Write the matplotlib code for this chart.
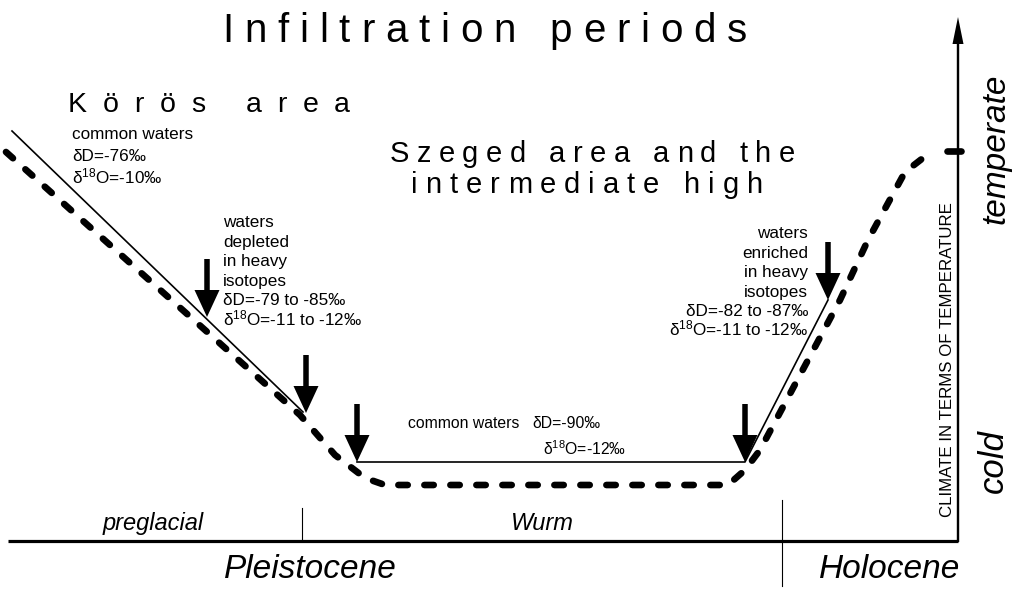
import matplotlib
matplotlib.use('Agg')
import matplotlib.pyplot as plt
import numpy as np

plt.rcParams['font.family'] = ['Liberation Sans', 'DejaVu Sans']
plt.rcParams['mathtext.fontset'] = 'custom'
plt.rcParams['mathtext.rm'] = 'Liberation Sans'
plt.rcParams['mathtext.it'] = 'Liberation Sans:italic'

# Schematic drawn on a pixel grid (x to the right, y downwards)
# solid line = infiltration periods, NaN splits it
SOLID_X = [12, 303, np.nan, 357, 745, 828]
SOLID_Y = [131, 412, np.nan, 462, 462, 300]

# dashed line = climate curve
CLIMATE_X = [6, 300, 335, 365, 385, 728, 745, 760, 840, 868, 887, 905, 932]
CLIMATE_Y = [152, 415, 455, 478, 485, 485, 470, 450, 300, 240, 205, 172, 151]
TEMPERATE_Y = 151

# sampling arrows (tip positions)
ARROW_X = [207, 306, 357, 745, 828]
ARROW_TIP_Y = [317, 413, 462, 462, 300]
ARROW_LEN = 58

# time axis
AXIS_Y = 541
AXIS_X0, AXIS_X1 = 8, 958
AXIS_TOP = 17
PERIOD_BOUNDS = [302]          # preglacial | Wurm
EPOCH_BOUNDS = [782]           # Pleistocene | Holocene
PERIODS = ['preglacial', 'Wurm']
PERIOD_X = [153, 542]
EPOCHS = ['Pleistocene', 'Holocene']
EPOCH_X = [310, 890]

KOROS_NOTE = ['common waters', 'δD=-76‰', 'δ$^{\\mathregular{18}}$O=-10‰']
DEPLETED_NOTE = ['waters', 'depleted', 'in heavy', 'isotopes',
                 'δD=-79 to -85‰', 'δ$^{\\mathregular{18}}$O=-11 to -12‰']
ENRICHED_NOTE = ['waters', 'enriched', 'in heavy', 'isotopes',
                 'δD=-82 to -87‰', 'δ$^{\\mathregular{18}}$O=-11 to -12‰']


def tracked_text(ax, s, x0, x1, y, size, space=0.3):
    """Letter-spaced text spread so that it runs from x0 to x1."""
    r = ax.figure.canvas.get_renderer()
    space_w = space * size * 100 / 72
    arts, widths = [], []
    for ch in s:
        if ch == ' ':
            arts.append(None)
            widths.append(space_w)
            continue
        t = ax.text(0, y, ch, fontsize=size, ha='left', va='baseline')
        arts.append(t)
        widths.append(t.get_window_extent(r).width)
    track = (x1 - x0 - sum(widths)) / (len(s) - 1)
    x = x0
    for t, w in zip(arts, widths):
        if t is not None:
            t.set_x(x)
        x += w + track


fig = plt.figure(figsize=(10.14, 5.91), dpi=100)
ax = fig.add_axes([0, 0, 1, 1])
ax.set_xlim(0, 1014)
ax.set_ylim(591, 0)
ax.axis('off')

# curves
ax.plot(SOLID_X, SOLID_Y, color='black', lw=1.2)
ax.plot(CLIMATE_X, CLIMATE_Y, color='black', lw=4.8, dashes=(1.4, 2.5),
        dash_capstyle='round', solid_capstyle='round')
ax.plot([947, 961], [TEMPERATE_Y, TEMPERATE_Y], color='black', lw=4.8,
        solid_capstyle='round')

for x, y in zip(ARROW_X, ARROW_TIP_Y):
    ax.arrow(x, y - ARROW_LEN, 0, ARROW_LEN, width=5.5, head_width=25,
             head_length=27, length_includes_head=True, color='black', lw=0)

# axes
ax.plot([AXIS_X0, AXIS_X1], [AXIS_Y, AXIS_Y], color='black', lw=2.3,
        solid_capstyle='butt')
ax.arrow(AXIS_X1, AXIS_Y + 1, 0, AXIS_TOP - AXIS_Y - 1, width=2.4, head_width=11,
         head_length=27, length_includes_head=True, color='black', lw=0)
for x in PERIOD_BOUNDS:
    ax.plot([x, x], [508, AXIS_Y], color='black', lw=0.8)
for x in EPOCH_BOUNDS:
    ax.plot([x, x], [500, 586], color='black', lw=0.8)

for lab, x in zip(PERIODS, PERIOD_X):
    ax.text(x, 530, lab, fontsize=17, style='italic', ha='center', va='baseline')
for lab, x in zip(EPOCHS, EPOCH_X):
    ax.text(x, 578, lab, fontsize=24, style='italic', ha='center', va='baseline')

ax.text(947, 360, 'CLIMATE IN TERMS OF TEMPERATURE', fontsize=12.2,
        rotation=90, ha='center', va='center')
ax.text(996, 149, 'temperate', fontsize=24, style='italic', rotation=90,
        ha='center', va='center')
ax.text(993, 461, 'cold', fontsize=25, style='italic', rotation=90,
        ha='center', va='center')

# headings
tracked_text(ax, 'Infiltration periods', 222, 747, 42, 29)
tracked_text(ax, 'Körös area', 68, 350, 112, 20.5)
tracked_text(ax, 'Szeged area and the', 390, 795, 162, 21)
tracked_text(ax, 'intermediate high', 411, 763, 193, 21)

# notes
for i, line in enumerate(KOROS_NOTE):
    ax.text(72, 139 + 22 * i, line, fontsize=12.3, ha='left', va='baseline')
for i, line in enumerate(DEPLETED_NOTE):
    ax.text(223, 227 + 19.6 * i, line, fontsize=12.3, ha='left', va='baseline')
for i, line in enumerate(ENRICHED_NOTE):
    ax.text(808, 238 + 19.5 * i, line, fontsize=12.3, ha='right', va='baseline')

ax.text(408, 428, 'common waters', fontsize=11.3, ha='left', va='baseline')
ax.text(532, 428, 'δD=-90‰', fontsize=11.3, ha='left', va='baseline')
ax.text(543, 455, 'δ$^{\\mathregular{18}}$O=-12‰', fontsize=11.3, ha='left',
        va='baseline')

fig.savefig('out.png', dpi=100)
